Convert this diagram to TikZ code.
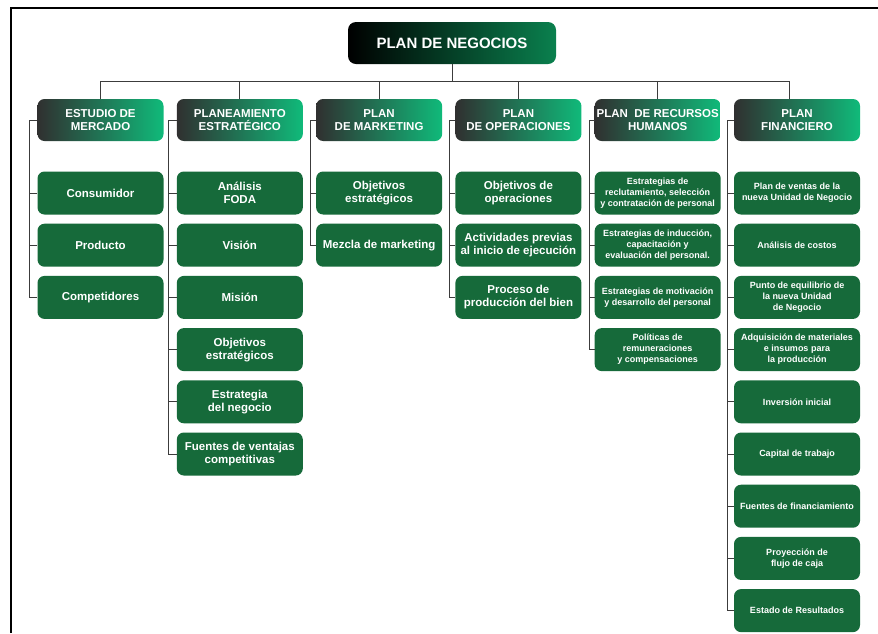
\documentclass[tikz,border=0pt]{standalone}
\usepackage{fontspec}
\setmainfont{Liberation Sans}
\definecolor{boxgreen}{RGB}{22,106,58}
\definecolor{hdgray}{RGB}{48,48,48}
\definecolor{hdgreen}{RGB}{16,186,122}
\definecolor{rootgreen}{RGB}{10,128,78}
\definecolor{linegray}{RGB}{60,60,60}

\begin{document}
\begin{tikzpicture}[x=1pt, y=1pt, node distance=52.2pt,
    top/.style = {rounded corners=8pt, left color=black, right color=rootgreen, text=white, minimum width=208pt, minimum height=42pt, font=\fontsize{15}{16}\selectfont\bfseries},
    head/.style = {rounded corners=7pt, left color=hdgray, right color=hdgreen, text=white, minimum width=126pt, minimum height=42pt, inner sep=1pt, align=center, font=\fontsize{11.5}{12.5}\selectfont\bfseries},
    item/.style = {rounded corners=7pt, fill=boxgreen, text=white, minimum width=126pt, minimum height=43pt, inner sep=1pt, align=center, font=\fontsize{11.5}{13}\selectfont\bfseries},
    small/.style = {font=\fontsize{9}{11}\selectfont\bfseries},
    link/.style = {draw=linegray, line width=0.8pt}]
    \useasboundingbox (0,0) rectangle (878,-633);
    \fill[white] (0,0) rectangle (878,-633);
    \draw[line width=1.6pt] (11,-633) -- (11,-8) -- (878,-8);

    \node[top] (root) at (452,-43) {PLAN DE NEGOCIOS};

    \node[head] (mer) at (100.5,-120) {ESTUDIO DE\\MERCADO};
    \node[head] (est) [right of=mer, node distance=139.3pt] {PLANEAMIENTO\\ESTRATÉGICO};
    \node[head] (mkt) [right of=est, node distance=139.3pt] {PLAN\\DE MARKETING};
    \node[head] (ope) [right of=mkt, node distance=139.3pt] {PLAN\\DE OPERACIONES};
    \node[head] (rrh) [right of=ope, node distance=139.3pt] {PLAN\ \ DE RECURSOS\\HUMANOS};
    \node[head] (fin) [right of=rrh, node distance=139.3pt] {PLAN\\FINANCIERO};

    % estudio de mercado
    \node[item] (mer1) [below of=mer, node distance=73pt] {Consumidor};
    \node[item] (mer2) [below of=mer1] {Producto};
    \node[item] (mer3) [below of=mer2] {Competidores};

    % planeamiento estrategico
    \node[item] (est1) [below of=est, node distance=73pt] {Análisis\\FODA};
    \node[item] (est2) [below of=est1] {Visión};
    \node[item] (est3) [below of=est2] {Misión};
    \node[item] (est4) [below of=est3] {Objetivos\\estratégicos};
    \node[item] (est5) [below of=est4] {Estrategia\\del negocio};
    \node[item] (est6) [below of=est5] {Fuentes de ventajas\\competitivas};

    % marketing
    \node[item] (mkt1) [below of=mkt, node distance=73pt] {Objetivos\\estratégicos};
    \node[item] (mkt2) [below of=mkt1] {Mezcla de marketing};

    % operaciones
    \node[item] (ope1) [below of=ope, node distance=73pt] {Objetivos de\\operaciones};
    \node[item] (ope2) [below of=ope1] {Actividades previas\\al inicio de ejecución};
    \node[item] (ope3) [below of=ope2] {Proceso de\\producción del bien};

    % recursos humanos
    \node[item, small] (rrh1) [below of=rrh, node distance=73pt] {Estrategias de\\reclutamiento, selección\\y contratación de personal};
    \node[item, small] (rrh2) [below of=rrh1] {Estrategias de inducción,\\capacitación y\\evaluación del personal.};
    \node[item, small] (rrh3) [below of=rrh2] {Estrategias de motivación\\y desarrollo del personal};
    \node[item, small] (rrh4) [below of=rrh3] {Políticas de\\remuneraciones\\y compensaciones};

    % financiero
    \node[item, small] (fin1) [below of=fin, node distance=73pt] {Plan de ventas de la\\nueva Unidad de Negocio};
    \node[item, small] (fin2) [below of=fin1] {Análisis de costos};
    \node[item, small] (fin3) [below of=fin2] {Punto de equilibrio de\\la nueva Unidad\\de Negocio};
    \node[item, small] (fin4) [below of=fin3] {Adquisición de materiales\\e insumos para\\la producción};
    \node[item, small] (fin5) [below of=fin4] {Inversión inicial};
    \node[item, small] (fin6) [below of=fin5] {Capital de trabajo};
    \node[item, small] (fin7) [below of=fin6] {Fuentes de financiamiento};
    \node[item, small] (fin8) [below of=fin7] {Proyección de\\flujo de caja};
    \node[item, small] (fin9) [below of=fin8] {Estado de Resultados};

    % top bar
    \draw[link] (root.south) -- ++(0,-18);
    \draw[link] (mer.north) -- ++(0,17) -| ([xshift=-8pt]fin.north);
    \draw[link] (est.north) -- ++(0,17);
    \draw[link] (mkt.north) -- ++(0,17);
    \draw[link] (ope.north) -- ++(0,17);
    \draw[link] (rrh.north) -- ++(0,17);

    % branches
    \draw[link] (mer.west) -- ++(-8,0) |- (mer3.west);
    \draw[link] (est.west) -- ++(-8,0) |- (est6.west);
    \draw[link] (mkt.west) -- ++(-6,0) |- (mkt2.west);
    \draw[link] (ope.west) -- ++(-6,0) |- (ope3.west);
    \draw[link] (rrh.west) -- ++(-5,0) |- (rrh4.west);
    \draw[link] (fin.west) -- ++(-6,0) |- (fin9.west);
    \foreach \n in {mer1,mer2,est1,est2,est3,est4,est5}
        \draw[link] (\n.west) -- ++(-8,0);
    \draw[link] (mkt1.west) -- ++(-6,0);
    \foreach \n in {ope1,ope2}
        \draw[link] (\n.west) -- ++(-6,0);
    \foreach \n in {rrh1,rrh2,rrh3}
        \draw[link] (\n.west) -- ++(-5,0);
    \foreach \n in {fin1,fin2,fin3,fin4,fin5,fin6,fin7,fin8}
        \draw[link] (\n.west) -- ++(-6,0);
\end{tikzpicture}
\end{document}
